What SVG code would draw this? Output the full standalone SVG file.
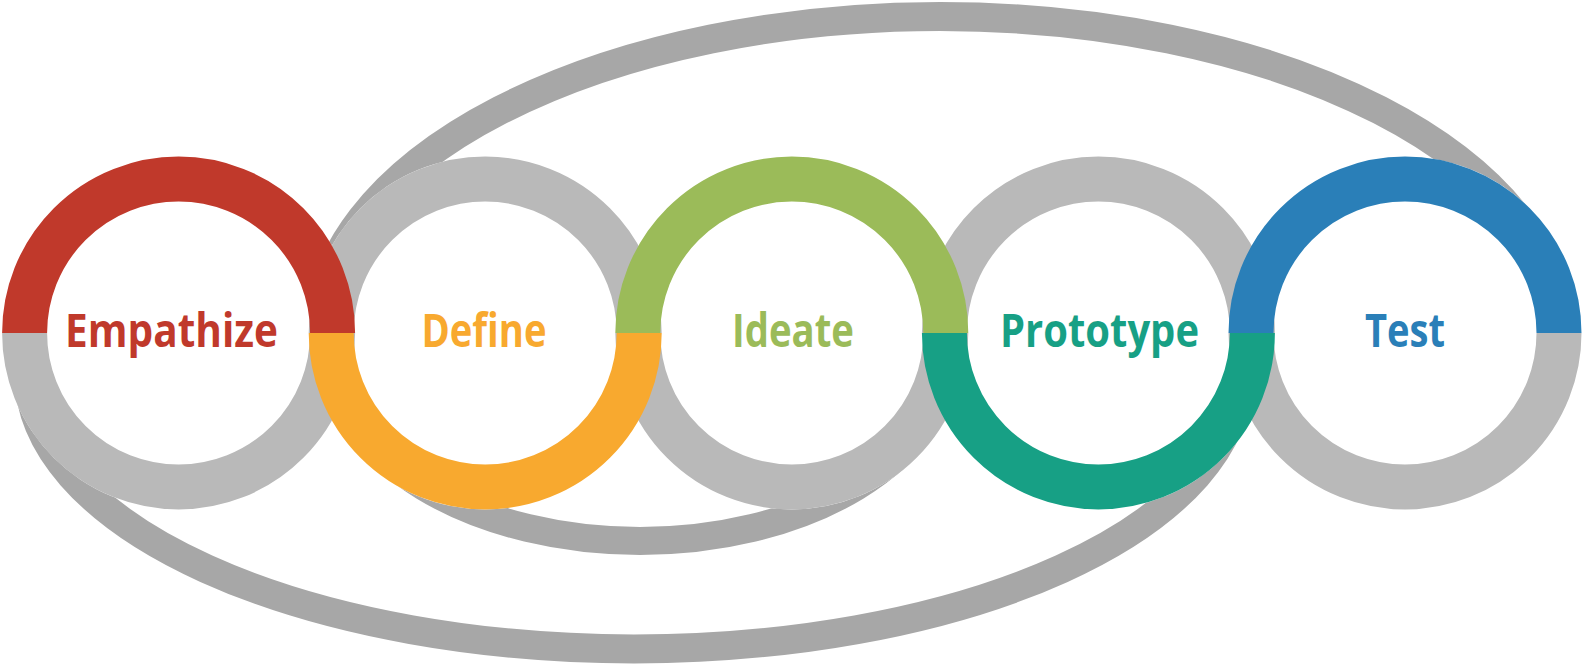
<svg xmlns="http://www.w3.org/2000/svg" width="1583" height="668" viewBox="0 0 1583 668">
<style>
.loop{fill:none;stroke:#a7a7a7;stroke-width:29}
.disk{fill:#ffffff}
.arc{fill:none;stroke-width:45}
.gray{stroke:#b9b9b9}
.red{stroke:#c0392b}
.orange{stroke:#f8a92f}
.green{stroke:#9bbb59}
.teal{stroke:#17a085}
.blue{stroke:#2a7fb8}
.label{font-family:"Open Sans","Noto Sans",sans-serif;font-weight:700;font-size:46px;text-anchor:middle}
</style>
<rect width="1583" height="668" fill="#ffffff"/>
<g id="connectors">
<path class="loop" d="M 318 336.5 A 622 320 0 0 1 1562 336.5"/>
<path class="loop" d="M 29 375 A 605 274 0 0 0 1239 375"/>
<path class="loop" style="stroke-width:28" d="M 334 355 A 306 186 0 0 0 946 355"/>
</g>
<g id="disks">
<circle class="disk" cx="178.6" cy="333" r="176.5"/>
<circle class="disk" cx="485.2" cy="333" r="176.5"/>
<circle class="disk" cx="791.8" cy="333" r="176.5"/>
<circle class="disk" cx="1098.4" cy="333" r="176.5"/>
<circle class="disk" cx="1405" cy="333" r="176.5"/>
</g>
<g id="ring-backs">
<path class="arc gray" d="M 332.6 333 A 154 154 0 0 1 24.6 333"/>
<path class="arc gray" d="M 331.2 333 A 154 154 0 0 1 639.2 333"/>
<path class="arc gray" d="M 945.8 333 A 154 154 0 0 1 637.8 333"/>
<path class="arc gray" d="M 944.4 333 A 154 154 0 0 1 1252.4 333"/>
<path class="arc gray" d="M 1559 333 A 154 154 0 0 1 1251 333"/>
</g>
<g id="empathize">
<path class="arc red" d="M 24.6 333 A 154 154 0 0 1 332.6 333"/>
<text class="label" x="171.5" y="346.5" fill="#c0392b" textLength="213" lengthAdjust="spacingAndGlyphs">Empathize</text>
</g>
<g id="define">
<path class="arc orange" d="M 639.2 333 A 154 154 0 0 1 331.2 333"/>
<text class="label" x="484" y="346.5" fill="#f8a92f" textLength="125" lengthAdjust="spacingAndGlyphs">Define</text>
</g>
<g id="ideate">
<path class="arc green" d="M 637.8 333 A 154 154 0 0 1 945.8 333"/>
<text class="label" x="793" y="346.5" fill="#9bbb59" textLength="122" lengthAdjust="spacingAndGlyphs">Ideate</text>
</g>
<g id="prototype">
<path class="arc teal" d="M 1252.4 333 A 154 154 0 0 1 944.4 333"/>
<text class="label" x="1099.5" y="346.5" fill="#17a085" textLength="199" lengthAdjust="spacingAndGlyphs">Prototype</text>
</g>
<g id="test">
<path class="arc blue" d="M 1251 333 A 154 154 0 0 1 1559 333"/>
<text class="label" x="1405" y="346.5" fill="#2a7fb8" textLength="80" lengthAdjust="spacingAndGlyphs">Test</text>
</g>
</svg>
